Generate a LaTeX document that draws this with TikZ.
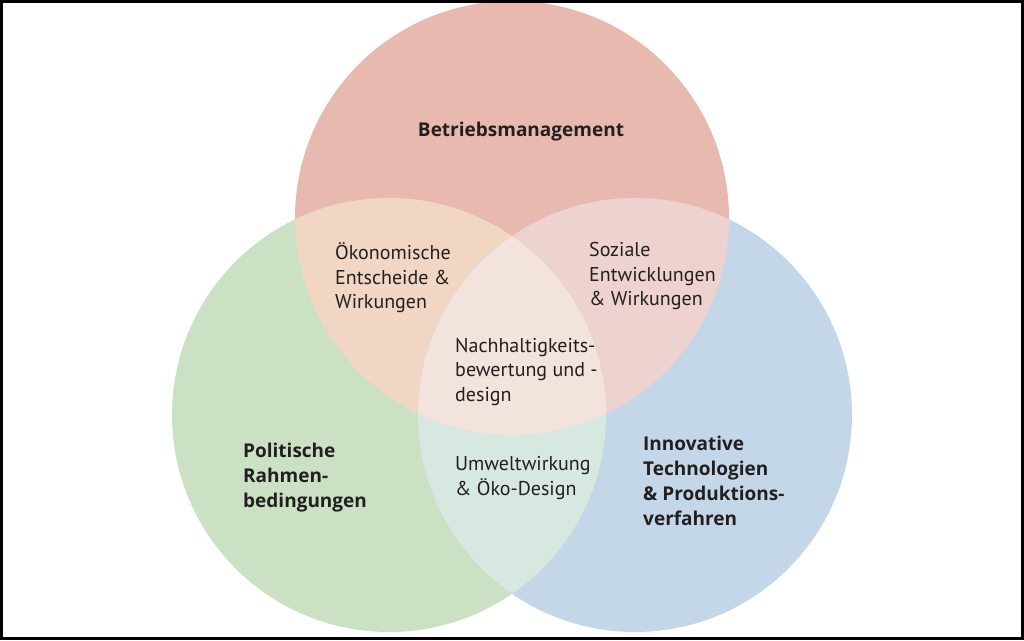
\documentclass[tikz,border=0pt]{standalone}
\usepackage{fontspec}
\setmainfont{PT Sans}
\newfontfamily\boldlab{Open Sans}
\definecolor{cTop}{HTML}{E8B9AE}
\definecolor{cLeft}{HTML}{CAE1C4}
\definecolor{cRight}{HTML}{C4D7E9}
\definecolor{cTL}{HTML}{F0D6C3}
\definecolor{cTR}{HTML}{EED2CF}
\definecolor{cLR}{HTML}{D6E8DF}
\definecolor{cAll}{HTML}{F2E3DC}
\definecolor{txt}{HTML}{231F20}
\begin{document}
\begin{tikzpicture}[x=1pt,y=-1pt,
  lab/.style={anchor=north west,inner sep=0pt,align=left,text=txt,font=\fontsize{20}{24.5}\selectfont},
  blab/.style={anchor=north west,inner sep=0pt,align=left,text=txt,font=\boldlab\bfseries\fontsize{19}{24.8}\selectfont}]
\useasboundingbox (0,0) rectangle (1024,640);
\coordinate (T) at (512,218);
\coordinate (L) at (389,415);
\coordinate (R) at (635,415);
\def\rr{217pt}
\fill[cTop] (T) circle (\rr);
\fill[cLeft] (L) circle (\rr);
\fill[cRight] (R) circle (\rr);
\begin{scope}
  \clip (T) circle (\rr);
  \fill[cTL] (L) circle (\rr);
  \fill[cTR] (R) circle (\rr);
\end{scope}
\begin{scope}
  \clip (L) circle (\rr);
  \fill[cLR] (R) circle (\rr);
  \clip (R) circle (\rr);
  \fill[cAll] (T) circle (\rr);
\end{scope}
\draw[line width=3pt] (1.5,1.5) rectangle (1022.5,638.5);
\node[blab,anchor=center] (bm) at (521,132) {Betriebsmanagement};
\node[lab] (oek) at (335,242.5) {Ökonomische\\Entscheide \&\\Wirkungen};
\node[lab] (soz) at (589,242.5) {Soziale\\Entwicklungen\\\& Wirkungen};
\node[lab] (nh) at (455,338) {Nachhaltigkeits-\\bewertung und -\\design};
\node[lab] (uw) at (455,456.5) {Umweltwirkung\\\& Öko-Design};
\node[blab] (pol) at (243,443) {Politische\\Rahmen-\\bedingungen};
\node[blab] (inn) at (643,436) {Innovative\\Technologien\\\& Produktions-\\verfahren};
\end{tikzpicture}
\end{document}
